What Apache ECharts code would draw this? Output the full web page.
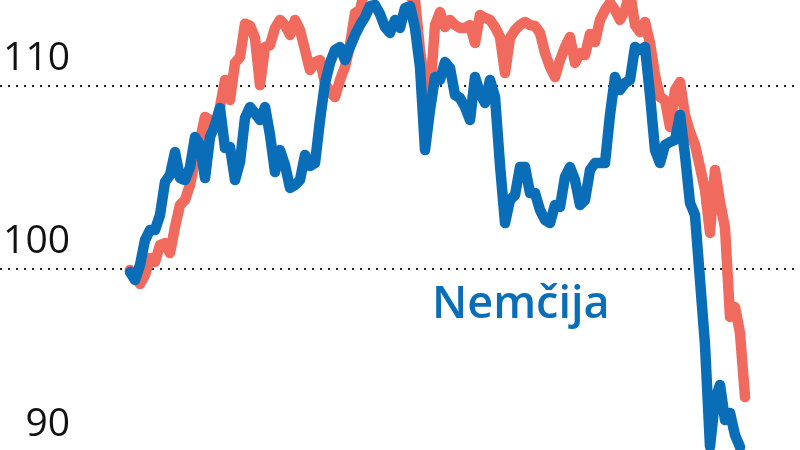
<!DOCTYPE html>
<html>
<head>
<meta charset="utf-8">
<script src="https://cdn.jsdelivr.net/npm/echarts@6/dist/echarts.min.js"></script>
<style>
  html, body { margin: 0; padding: 0; background: #ffffff; }
  #chart { width: 800px; height: 450px; }
</style>
</head>
<body>
<div id="chart"></div>
<script>
// Index values (weekly-like samples)
const nemcija = [
  99.84, 99.40, 100.22, 101.58, 102.13, 102.13, 102.95, 104.75, 105.14, 106.39,
  104.97, 104.86, 105.57, 107.21, 106.78, 104.97, 107.21, 107.87, 108.80, 106.61,
  106.67, 104.86, 105.85, 108.25, 108.85, 108.52, 108.14, 108.85, 107.32, 105.30,
  106.50, 105.68, 104.43, 104.59, 104.86, 106.23, 105.63, 105.79, 108.14, 110.16,
  111.26, 111.97, 112.13, 111.42, 112.13, 112.79, 113.33, 113.77, 114.37, 114.43,
  113.93, 113.22, 112.90, 113.61, 113.17, 114.26, 114.37, 113.17, 111.04, 106.50,
  108.69, 110.49, 110.33, 111.31, 110.98, 109.51, 109.34, 108.85, 108.14, 110.49,
  109.62, 109.07, 110.33, 109.40, 105.68, 102.51, 103.77, 104.04, 105.57, 105.57,
  104.15, 104.15, 103.22, 102.68, 102.51, 103.50, 103.39, 105.03, 105.57, 104.86,
  103.50, 103.77, 105.41, 105.79, 105.79, 105.79, 108.42, 110.49, 109.78, 110.16,
  110.33, 112.13, 111.97, 112.13, 109.51, 106.50, 105.79, 106.78, 106.94, 107.05,
  108.42, 106.23, 103.61, 102.95, 99.40, 95.85, 90.30, 92.84, 93.66, 91.75,
  92.13, 90.93, 90.27
];
const drugi = [
  99.95, 99.56, 99.18, 99.67, 100.60, 100.38, 101.31, 101.42, 100.87, 102.30,
  103.50, 103.77, 104.59, 105.96, 107.05, 108.31, 108.14, 107.76, 108.85, 110.33,
  109.23, 111.26, 111.58, 113.40, 113.30, 112.62, 110.05, 112.13, 112.24, 113.17,
  113.61, 113.33, 112.79, 113.61, 113.06, 111.97, 110.87, 111.31, 111.42, 110.16,
  109.67, 109.40, 110.33, 111.04, 112.24, 113.99, 114.15, 115.30, 115.60, 115.90,
  115.50, 115.20, 115.60, 115.90, 115.40, 115.10, 114.90, 114.70, 111.97, 110.05,
  109.51, 113.33, 114.04, 113.22, 113.61, 113.33, 113.17, 113.17, 113.33, 112.35,
  113.88, 113.72, 113.61, 113.22, 112.68, 110.71, 112.62, 113.06, 113.33, 113.50,
  113.33, 113.28, 112.90, 111.80, 111.04, 110.49, 111.42, 112.13, 112.68, 111.26,
  111.80, 111.69, 112.84, 112.40, 113.61, 114.15, 114.54, 114.15, 113.61, 114.15,
  115.14, 113.33, 112.95, 113.50, 112.35, 110.60, 109.40, 109.23, 107.76, 109.78,
  110.22, 108.42, 107.49, 106.78, 105.57, 104.32, 101.97, 105.41, 103.66, 102.24,
  97.38, 97.92, 96.50, 93.00
];
const yTicks = [90, 100, 110, 120];
const labelText = 'Nemčija';

const BLUE = '#0A6DB7';
const RED = '#F06A5E';

const chart = echarts.init(document.getElementById('chart'), null, { renderer: 'canvas' });
const toPairs = arr => arr.map((v, i) => [i, v]);

chart.setOption({
  animation: false,
  backgroundColor: '#ffffff',
  grid: { left: 0, right: 0, top: -97, bottom: -2, containLabel: false, outerBoundsMode: 'none' },
  xAxis: {
    type: 'value', min: -26, max: 134, show: false
  },
  yAxis: {
    type: 'value',
    min: yTicks[0], max: yTicks[yTicks.length - 1], interval: 10,
    axisLine: { show: false },
    axisTick: { show: false },
    splitLine: {
      show: true,
      lineStyle: { color: '#222', width: 2, type: [2, 6] }
    },
    axisLabel: {
      inside: true,
      align: 'right',
      margin: 70,
      verticalAlign: 'bottom',
      fontFamily: 'Open Sans',
      fontSize: 39,
      lineHeight: 39,
      padding: [0, 0, 8, 0],
      color: '#111'
    }
  },
  graphic: [{
    type: 'text',
    left: 432,
    top: 283,
    style: {
      text: labelText,
      fill: BLUE,
      font: '600 45px "Open Sans"'
    }
  }],
  series: [
    {
      name: 'Nemčija', type: 'line', data: toPairs(nemcija),
      showSymbol: false, clip: true,
      lineStyle: { color: BLUE, width: 10.5, join: 'round', cap: 'round' },
      z: 3
    },
    {
      name: 'drugi', type: 'line', data: toPairs(drugi),
      showSymbol: false, clip: true,
      lineStyle: { color: RED, width: 10.5, join: 'round', cap: 'round' },
      z: 2
    }
  ]
});
</script>
</body>
</html>
